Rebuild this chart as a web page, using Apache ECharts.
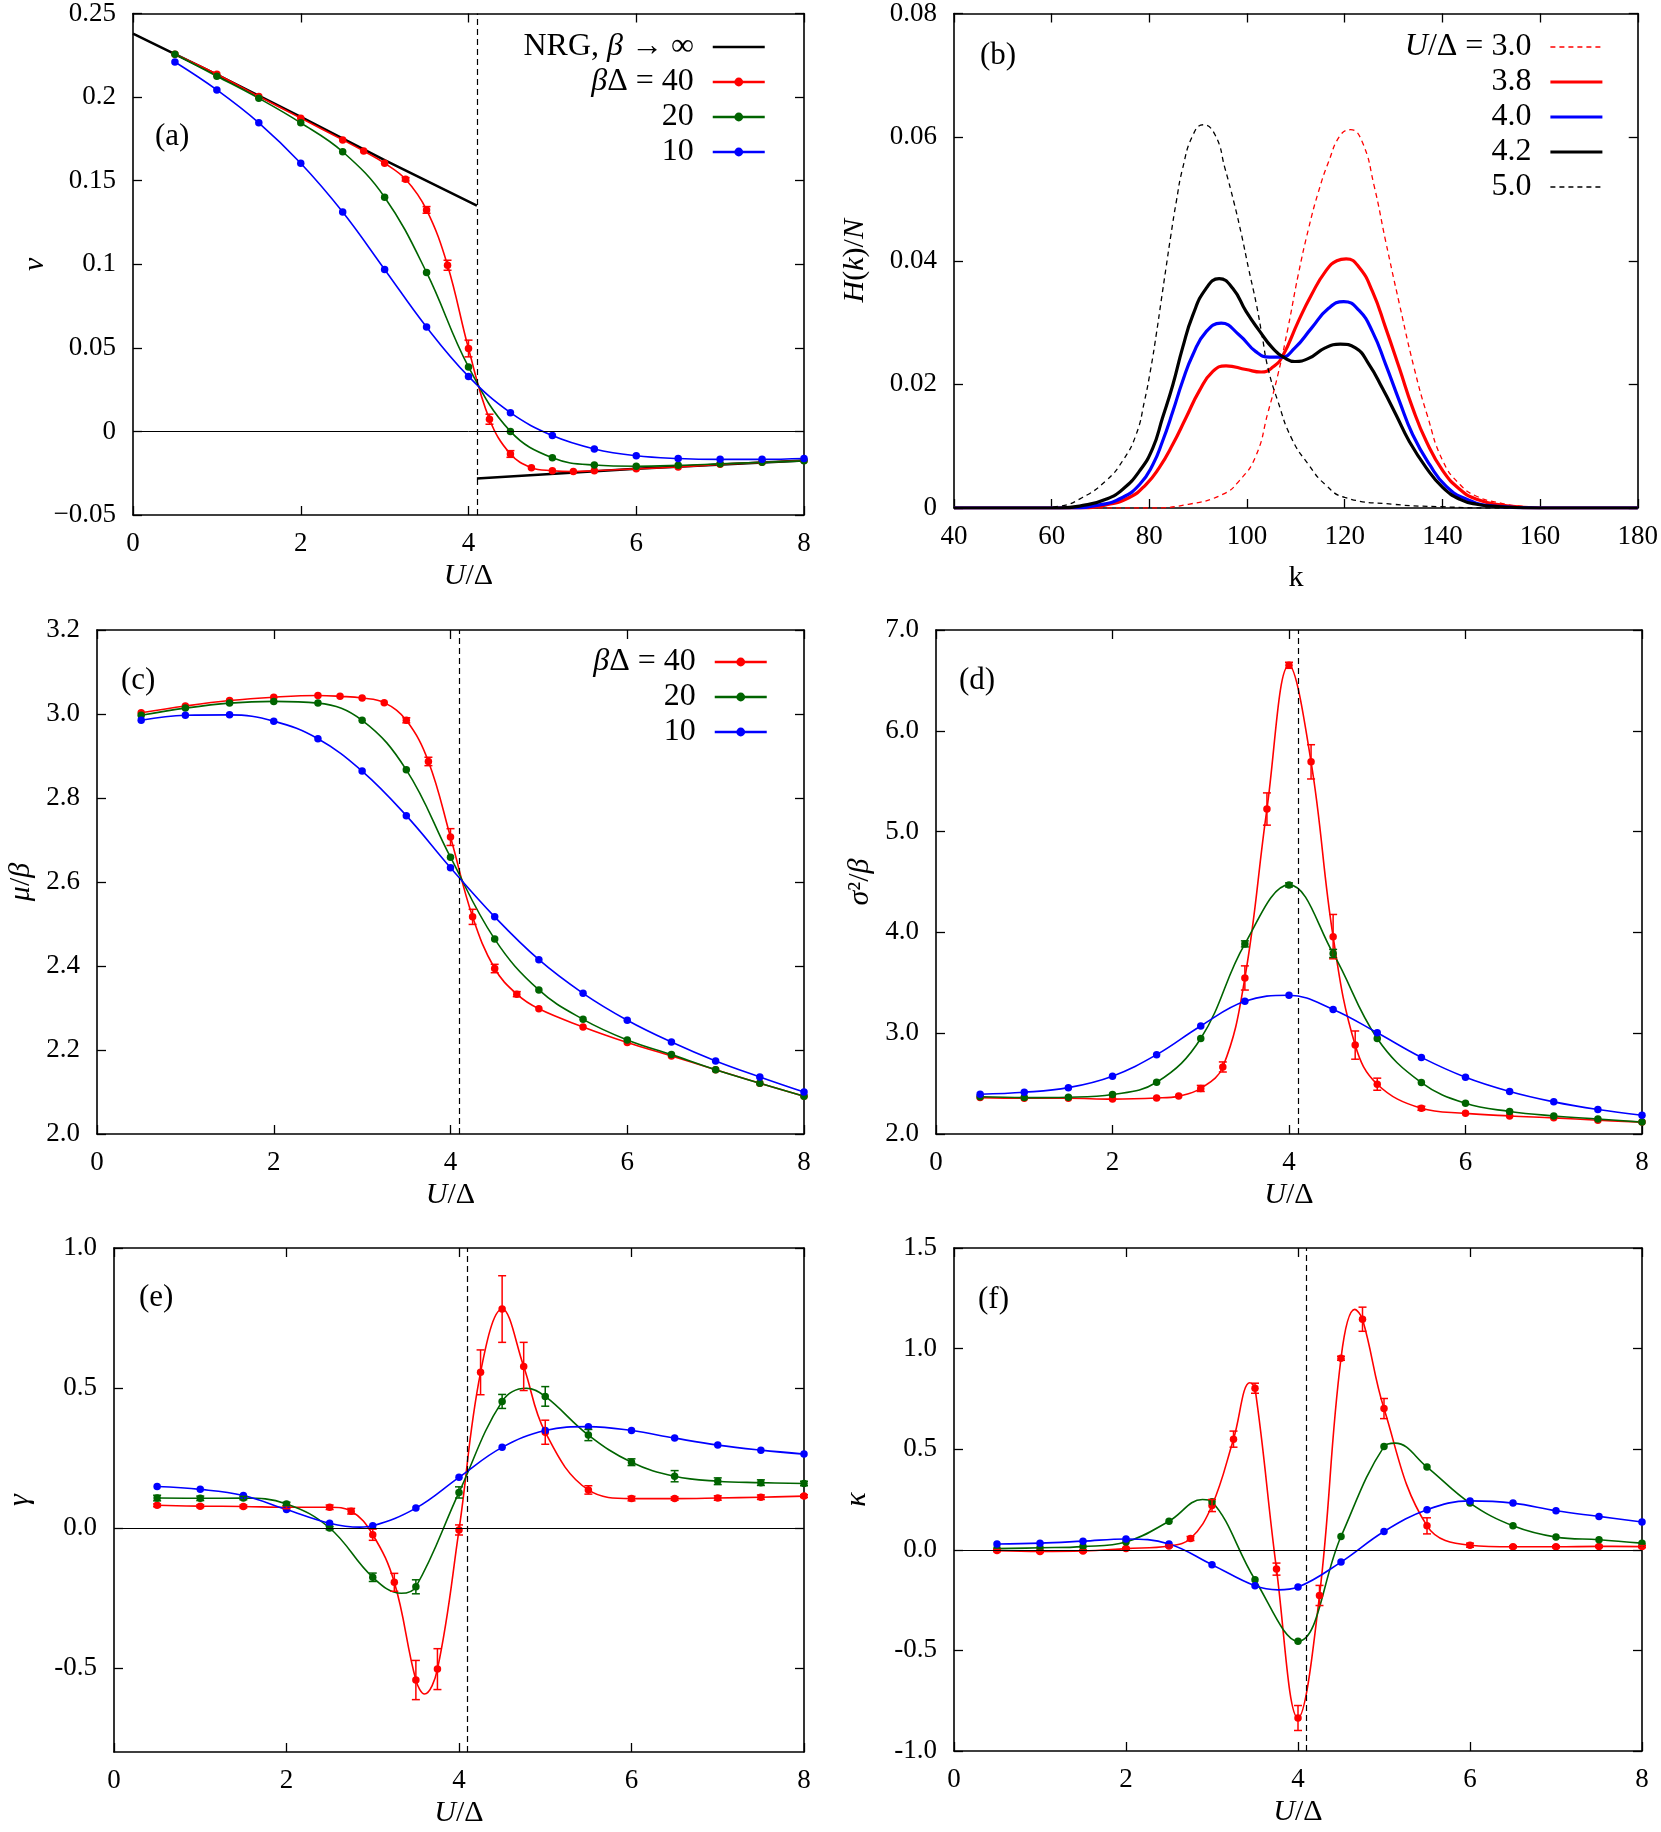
<!DOCTYPE html>
<html><head><meta charset="utf-8">
<script src="https://cdn.jsdelivr.net/npm/echarts@6.0.0/dist/echarts.min.js"></script>
<style>html,body{margin:0;padding:0;background:#fff}#c{width:1661px;height:1832px}</style>
</head><body><div id="c"></div>
<script>
// ---------------- DATA ----------------
const criticalU = 4.1;
const uRedA = [0.5,1,1.5,2,2.5,2.75,3,3.25,3.5,3.75,4,4.25,4.5,4.75,5,5.25,5.5,6,6.5,7,7.5,8];
const uRed = [0.5,1,1.5,2,2.5,2.75,3,3.25,3.5,3.75,4,4.25,4.5,4.75,5,5.5,6,6.5,7,7.5,8];
const uStd = [0.5,1,1.5,2,2.5,3,3.5,4,4.5,5,5.5,6,6.5,7,7.5,8];

// (a) nu
const nrgLowU = [0,1,2,3,4.1];
const nrgLow = [0.2379,0.2135,0.1882,0.1623,0.1351];
const nrgHighU = [4.1,6,8];
const nrgHigh = [-0.0281,-0.0224,-0.0174];
const nuRed = [0.2256,0.2137,0.2004,0.1874,0.1744,0.1677,0.1604,0.1508,0.1325,0.0994,0.0496,0.0073,-0.0135,-0.0217,-0.0235,-0.024,-0.0235,-0.0224,-0.0213,-0.0197,-0.0185,-0.0174];
const nuRedErr = [0,0,0,0,0,0,0,0.001,0.002,0.003,0.005,0.003,0.002,0,0,0,0,0,0,0,0,0];
const nuGreen = [0.2256,0.2125,0.1993,0.1846,0.1673,0.1401,0.0951,0.0386,0.0,-0.0158,-0.0201,-0.0208,-0.0203,-0.0194,-0.0185,-0.0176];
const nuBlue = [0.221,0.2043,0.1846,0.1604,0.1312,0.0969,0.0624,0.0329,0.0112,-0.0025,-0.0105,-0.0146,-0.0162,-0.0167,-0.0167,-0.0162];

// (b) H(k)/N
const kU30 = [40,80,88,95,98.4,101.8,104.3,106.3,108.4,110.5,112.6,114.6,116.7,119.1,121.2,123.6,126,128.4,131.2,134.2,136.9,140.1,143.6,147,151.9,156,165,180];
const hU30 = [0,0,0.0006,0.0022,0.0044,0.0084,0.0155,0.0215,0.0292,0.0378,0.0452,0.0511,0.056,0.0603,0.0612,0.0592,0.0522,0.0431,0.033,0.0227,0.015,0.0076,0.0038,0.0019,0.0008,0.0003,0,0];
const kU38 = [40,65,71.1,75.9,79.3,82,84.8,87.5,90.2,93,95.7,99.8,102.9,105.3,107.3,110.5,113.2,116,118.4,120.3,122.9,125.7,128.4,131.2,133.9,136.7,140.1,143.6,147,151.9,160,180];
const hU38 = [0,0,0.0005,0.0017,0.0038,0.0065,0.0103,0.0146,0.0189,0.0221,0.023,0.0224,0.022,0.0228,0.0246,0.0302,0.0345,0.0382,0.04,0.0403,0.039,0.035,0.0291,0.0226,0.0162,0.0108,0.006,0.003,0.0014,0.0005,0,0];
const kU40 = [40,63,69.8,74.5,78,80.7,82.7,84.8,86.8,88.9,91.6,94.7,98.4,101.8,104.6,107,109.8,113.2,116.7,119.8,122.9,125.7,128.4,131.2,133.9,137.4,140.8,145,150.5,160,180];
const hU40 = [0,0,0.0005,0.0017,0.0038,0.007,0.0108,0.0156,0.0205,0.0248,0.0285,0.0299,0.028,0.0253,0.0244,0.0244,0.0259,0.0291,0.0323,0.0334,0.032,0.0285,0.0232,0.0173,0.0119,0.007,0.0035,0.0014,0.0003,0,0];
const kU42 = [40,61.6,67,71.1,74.5,78,80.7,82.7,84.8,86.8,88.9,91.6,94.3,97.1,99.8,102.5,105.2,107.7,109.8,112.6,116,119.1,122.2,125,127.7,130.5,133.2,136.7,140.1,143.6,147,151.9,160,180];
const hU42 = [0,0,0.0005,0.0014,0.003,0.006,0.0097,0.0146,0.0199,0.0259,0.0312,0.0355,0.0371,0.0355,0.0318,0.0287,0.0259,0.0243,0.0237,0.0242,0.0259,0.0265,0.0259,0.0232,0.0194,0.0151,0.0108,0.0065,0.0033,0.0014,0.0006,0.0002,0,0];
const kU50 = [40,56,61.6,66.3,71.1,74.5,77.3,79,80.3,81.4,82.4,83.4,84.4,85.5,86.8,88.9,91,93.5,95.5,97.3,98.9,100.3,101.9,103.1,104.3,106.3,109.1,112.6,116,120,130,140,150,180];
const hU50 = [0,0,0.0003,0.0017,0.0044,0.0076,0.0119,0.0173,0.0226,0.028,0.0334,0.0388,0.0441,0.0495,0.0549,0.0603,0.062,0.0603,0.0549,0.0495,0.0441,0.0388,0.033,0.0278,0.0226,0.0173,0.0113,0.007,0.0038,0.0017,0.0006,0.0002,0,0];

// (c) mu/beta
const muRed = [3.003,3.019,3.032,3.040,3.044,3.042,3.038,3.027,2.985,2.887,2.707,2.517,2.394,2.333,2.298,2.255,2.218,2.186,2.153,2.121,2.090];
const muRedErr = [0,0,0,0,0,0,0,0,0.006,0.01,0.02,0.018,0.01,0.006,0,0,0,0,0,0,0];
const muGreen = [2.997,3.014,3.026,3.030,3.026,2.985,2.867,2.659,2.464,2.343,2.273,2.224,2.189,2.153,2.121,2.090];
const muBlue = [2.985,2.997,2.998,2.983,2.941,2.864,2.758,2.634,2.517,2.415,2.335,2.271,2.219,2.174,2.136,2.100];

// (d) sigma^2/beta
const sigRed = [2.361,2.354,2.354,2.346,2.357,2.376,2.452,2.665,3.548,5.224,6.650,5.692,3.958,2.882,2.494,2.255,2.205,2.179,2.160,2.137,2.118];
const sigRedErr = [0,0,0,0,0,0,0.03,0.05,0.12,0.16,0.03,0.17,0.22,0.14,0.06,0.02,0,0,0,0,0];
const sigGreen = [2.369,2.361,2.365,2.392,2.513,2.947,3.886,4.471,3.791,2.947,2.510,2.304,2.224,2.179,2.148,2.118];
const sigGreenErr = [0,0,0,0,0,0,0.03,0.02,0.04,0,0,0,0,0,0,0];
const sigBlue = [2.395,2.414,2.460,2.574,2.787,3.072,3.316,3.376,3.236,3.004,2.760,2.563,2.422,2.319,2.243,2.186];

// (e) gamma
const gamRed = [0.081,0.078,0.077,0.074,0.074,0.060,-0.024,-0.194,-0.543,-0.504,-0.007,0.556,0.782,0.577,0.342,0.136,0.105,0.105,0.107,0.110,0.114];
const gamRedErr = [0.005,0.005,0.005,0.005,0.008,0.01,0.02,0.032,0.07,0.073,0.018,0.08,0.119,0.086,0.043,0.015,0.008,0.006,0.008,0.008,0.005];
const gamRedCurve = [[3.6,-0.593]];
const gamGreen = [0.107,0.106,0.107,0.086,0.0,-0.176,-0.21,0.127,0.452,0.470,0.332,0.235,0.185,0.167,0.162,0.159];
const gamGreenErr = [0.01,0.008,0.006,0.006,0.006,0.015,0.025,0.02,0.025,0.035,0.02,0.012,0.02,0.012,0.01,0.008];
const gamGreenCurve = [[3.33,-0.233],[4.78,0.499]];
const gamBlue = [0.148,0.138,0.116,0.066,0.017,0.008,0.071,0.181,0.288,0.348,0.362,0.348,0.321,0.296,0.278,0.264];
const gamBlueCurve = [[2.85,0.003]];

// (f) kappa
const kapRed = [-0.004,-0.008,-0.006,0.006,0.019,0.056,0.22,0.55,0.803,-0.096,-0.836,-0.227,0.952,1.146,0.702,0.119,0.023,0.015,0.015,0.017,0.016];
const kapRedErr = [0.005,0.005,0.005,0.005,0.005,0.01,0.03,0.04,0.025,0.03,0.062,0.05,0.01,0.06,0.05,0.04,0.01,0.005,0.005,0.005,0.005];
const kapRedCurve = [[3.44,0.83],[4.66,1.195]];
const kapGreen = [0.006,0.01,0.016,0.039,0.142,0.239,-0.149,-0.455,0.066,0.513,0.411,0.232,0.119,0.063,0.05,0.033];
const kapGreenCurve = [[2.89,0.25],[5.13,0.53]];
const kapBlue = [0.029,0.033,0.043,0.054,0.029,-0.074,-0.179,-0.185,-0.061,0.091,0.199,0.243,0.232,0.194,0.166,0.138];
const kapBlueCurve = [[3.77,-0.199]];

// ---------------- STYLE / BUILD ----------------
const FONT = 'Liberation Serif';
const RED = '#ff0000', GREEN = '#006400', BLUE = '#0000ff', BLACK = '#000000';
const N40 = 'βΔ = 40', N20 = '20', N10 = '10', NNRG = 'NRG, β → ∞';

const grids = [
  {left:133, top:12, width:671, height:503},
  {left:954, top:12, width:688, height:496},
  {left:97, top:630, width:707, height:504},
  {left:936, top:630, width:706, height:504},
  {left:114, top:1248, width:690, height:504},
  {left:954, top:1248, width:688, height:503}
];
const rich = {i:{fontStyle:'italic', fontFamily:FONT, fontSize:30}};
const nameStyle = {fontFamily:FONT, fontSize:30, color:'#000', rich:rich};
const xAxes = [], yAxes = [];
function addAxes(g, c) {
  const line = {show:true, onZero:false, lineStyle:{color:'#000', width:1.6}};
  const tick = (cv) => Object.assign({show:true, inside:true, length:9, lineStyle:{color:'#000', width:1.3}}, cv ? {customValues:cv} : {});
  const lab = (fmt, cv) => Object.assign({show:true, color:'#000', fontFamily:FONT, fontSize:27, margin:15}, fmt ? {formatter:fmt} : {}, cv ? {customValues:cv} : {});
  const xb = {type:'value', gridIndex:g, min:c.xMin, max:c.xMax, interval:c.xInt, splitLine:{show:false}, axisLine:line};
  xAxes.push(Object.assign({}, xb, {position:'bottom', axisTick:tick(), axisLabel:lab(null), name:c.xName, nameLocation:'middle', nameGap:c.xGap, nameTextStyle:nameStyle}));
  xAxes.push(Object.assign({}, xb, {position:'top', axisTick:tick(), axisLabel:{show:false}}));
  const yb = {type:'value', gridIndex:g, min:c.yMin, max:c.yMax, splitLine:{show:false}, axisLine:line};
  if (c.yInt) yb.interval = c.yInt;
  const ly = lab(c.yFmt, c.yCustom); ly.margin = 17;
  yAxes.push(Object.assign({}, yb, {position:'left', axisTick:tick(c.yCustom), axisLabel:ly, name:c.yName, nameLocation:'middle', nameGap:c.yGap, nameTextStyle:nameStyle}));
  yAxes.push(Object.assign({}, yb, {position:'right', axisTick:tick(c.yCustom), axisLabel:{show:false}}));
}
const f1 = v => v.toFixed(1);
addAxes(0, {xMin:0, xMax:8, xInt:2, yMin:-0.05, yMax:0.25, yInt:0.05,
  yFmt: v => (Math.abs(v) < 1e-9 ? '0' : String(+v.toFixed(2))).replace('-', '−'),
  xName:'{i|U}/Δ', xGap:46, yName:'{i|ν}', yGap:83});
addAxes(1, {xMin:40, xMax:180, xInt:20, yMin:0, yMax:0.08, yInt:0.02,
  yFmt: v => (Math.abs(v) < 1e-9 ? '0' : String(+v.toFixed(2))),
  xName:'k', xGap:55, yName:'{i|H}({i|k})/{i|N}', yGap:84});
addAxes(2, {xMin:0, xMax:8, xInt:2, yMin:2.0, yMax:3.2, yInt:0.2, yFmt:f1,
  xName:'{i|U}/Δ', xGap:46, yName:'{i|μ}/{i|β}', yGap:61});
addAxes(3, {xMin:0, xMax:8, xInt:2, yMin:2.0, yMax:7.0, yInt:1.0, yFmt:f1,
  xName:'{i|U}/Δ', xGap:46, yName:'{i|σ}²/{i|β}', yGap:61});
addAxes(4, {xMin:0, xMax:8, xInt:2, yMin:-0.8, yMax:1.0, yCustom:[-0.5,0,0.5,1.0], yFmt:f1,
  xName:'{i|U}/Δ', xGap:46, yName:'{i|γ}', yGap:79});
addAxes(5, {xMin:0, xMax:8, xInt:2, yMin:-1.0, yMax:1.5, yInt:0.5, yFmt:f1,
  xName:'{i|U}/Δ', xGap:46, yName:'{i|κ}', yGap:82});

function merge(xs, ys, extra) {
  const pts = xs.map((x, i) => ({value:[x, ys[i]]}));
  (extra || []).forEach(p => pts.push({value:[p[0], p[1]], symbol:'none', symbolSize:0}));
  pts.sort((a, b) => a.value[0] - b.value[0]);
  return pts;
}
function errRender(color) {
  return function (params, api) {
    const x = api.value(0), y = api.value(1), e = api.value(2);
    const p1 = api.coord([x, y + e]), p2 = api.coord([x, y - e]);
    const cap = 4, st = {stroke:color, lineWidth:1.5};
    return {type:'group', children:[
      {type:'line', shape:{x1:p1[0], y1:p1[1], x2:p2[0], y2:p2[1]}, style:st},
      {type:'line', shape:{x1:p1[0]-cap, y1:p1[1], x2:p1[0]+cap, y2:p1[1]}, style:st},
      {type:'line', shape:{x1:p2[0]-cap, y1:p2[1], x2:p2[0]+cap, y2:p2[1]}, style:st}
    ]};
  };
}
function marks(zero, vline) {
  const d = [];
  if (zero) d.push({yAxis:0, lineStyle:{type:'solid', width:1, color:'#000'}});
  if (vline) d.push({xAxis:criticalU, lineStyle:{type:[6,4], width:1.2, color:'#000'}});
  return {silent:true, symbol:['none','none'], label:{show:false}, animation:false, data:d};
}
const series = [];
function dataLine(g, name, color, xs, ys, extra, errs, mark) {
  const s = {type:'line', name:name, xAxisIndex:2*g, yAxisIndex:2*g, data:merge(xs, ys, extra),
    smooth:0.4, symbol:'circle', symbolSize:7.5, showSymbol:true, showAllSymbol:true,
    lineStyle:{color:color, width:1.6}, itemStyle:{color:color}, silent:true, z:3};
  if (mark) s.markLine = mark;
  series.push(s);
  if (errs) {
    const d = xs.map((x, i) => [x, ys[i], errs[i]]).filter(r => r[2] > 0);
    series.push({type:'custom', name:name + ' err' + g, xAxisIndex:2*g, yAxisIndex:2*g, data:d,
      encode:{x:0, y:1}, renderItem:errRender(color), silent:true, z:4});
  }
}
function curve(g, name, color, xs, ys, width, dash, smooth, mark) {
  const s = {type:'line', name:name, xAxisIndex:2*g, yAxisIndex:2*g, data:xs.map((x, i) => [x, ys[i]]),
    smooth:smooth, symbol:'circle', showSymbol:false,
    lineStyle:{color:color, width:width, type:dash || 'solid'}, itemStyle:{color:color}, silent:true, z:2};
  if (mark) s.markLine = mark;
  series.push(s);
}

// (a)
curve(0, NNRG, BLACK, nrgLowU, nrgLow, 2.5, null, false, marks(true, true));
curve(0, NNRG, BLACK, nrgHighU, nrgHigh, 2.5, null, false);
dataLine(0, N40, RED, uRedA, nuRed, null, nuRedErr);
dataLine(0, N20, GREEN, uStd, nuGreen, null, null);
dataLine(0, N10, BLUE, uStd, nuBlue, null, null);
// (b)
curve(1, 'U/Δ = 3.0', RED, kU30, hU30, 1.3, [5,4], 0.5);
curve(1, '3.8', RED, kU38, hU38, 3.2, null, 0.5);
curve(1, '4.0', BLUE, kU40, hU40, 3.2, null, 0.5);
curve(1, '4.2', BLACK, kU42, hU42, 3.2, null, 0.5);
curve(1, '5.0', BLACK, kU50, hU50, 1.3, [5,4], 0.5);
// (c)
dataLine(2, N40, RED, uRed, muRed, null, muRedErr, marks(false, true));
dataLine(2, N20, GREEN, uStd, muGreen, null, null);
dataLine(2, N10, BLUE, uStd, muBlue, null, null);
// (d)
dataLine(3, N40, RED, uRed, sigRed, null, sigRedErr, marks(false, true));
dataLine(3, N20, GREEN, uStd, sigGreen, null, sigGreenErr);
dataLine(3, N10, BLUE, uStd, sigBlue, null, null);
// (e)
dataLine(4, N40, RED, uRed, gamRed, gamRedCurve, gamRedErr, marks(true, true));
dataLine(4, N20, GREEN, uStd, gamGreen, gamGreenCurve, gamGreenErr);
dataLine(4, N10, BLUE, uStd, gamBlue, gamBlueCurve, null);
// (f)
dataLine(5, N40, RED, uRed, kapRed, kapRedCurve, kapRedErr, marks(true, true));
dataLine(5, N20, GREEN, uStd, kapGreen, kapGreenCurve, null);
dataLine(5, N10, BLUE, uStd, kapBlue, kapBlueCurve, null);

const legendFmt = name => {
  if (name === NNRG) return 'NRG, {i|β} → ∞';
  if (name === N40) return '{i|β}Δ = 40';
  if (name === 'U/Δ = 3.0') return '{i|U}/Δ = 3.0';
  return name;
};
function legend(data, right, top, lw) {
  return {data:data, orient:'vertical', align:'right', right:right, top:top, padding:0,
    itemWidth:52, itemHeight:11, itemGap:3,
    selectedMode:false, formatter:legendFmt,
    lineStyle: lw ? {width:lw} : {width:'inherit'},
    textStyle:{fontFamily:FONT, fontSize:32, color:'#000', lineHeight:30, padding:[0,14,0,0],
      rich:{i:{fontStyle:'italic', fontFamily:FONT, fontSize:32, lineHeight:30}}}};
}
const hide = n => ({name:n, itemStyle:{opacity:0}});
const option = {
  animation:false,
  backgroundColor:'#ffffff',
  textStyle:{fontFamily:FONT},
  grid:grids,
  xAxis:xAxes,
  yAxis:yAxes,
  legend:[
    legend([hide(NNRG), N40, N20, N10], 895, 31, 2.5),
    legend([hide('U/Δ = 3.0'), hide('3.8'), hide('4.0'), hide('4.2'), hide('5.0')], 57, 31, null),
    legend([N40, N20, N10], 893, 646, 2.5)
  ],
  graphic:[
    ['(a)', 155, 121], ['(b)', 980, 40], ['(c)', 121, 665],
    ['(d)', 959, 665], ['(e)', 139, 1282], ['(f)', 978, 1284]
  ].map(t => ({type:'text', left:t[1], top:t[2], silent:true,
    style:{text:t[0], font:'31px "Liberation Serif"', fill:'#000'}})),
  series:series
};
const chart = echarts.init(document.getElementById('c'), null, {renderer:'canvas'});
chart.setOption(option);
</script></body></html>
